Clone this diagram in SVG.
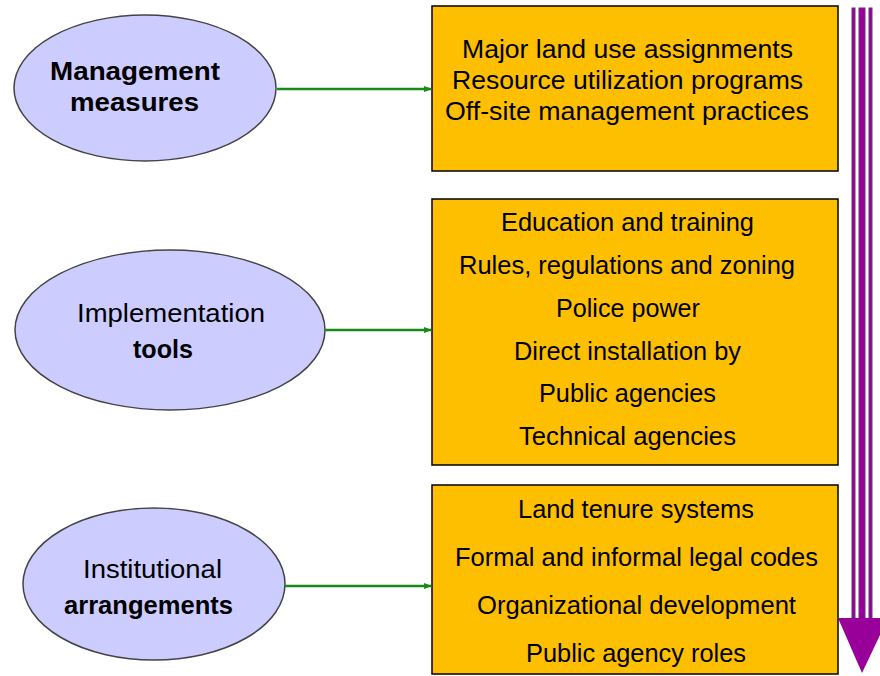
<svg xmlns="http://www.w3.org/2000/svg" width="880" height="676" viewBox="0 0 880 676">
<defs>
<marker id="ah" markerWidth="8" markerHeight="8" refX="7" refY="4" orient="auto" markerUnits="userSpaceOnUse">
<path d="M0,1 L8,4 L0,7 Z" fill="#1a8a1a"/>
</marker>
<style>
.ell{fill:#ccccff;stroke:#444;stroke-width:1.5}
.box{fill:#fdbf00;stroke:#000;stroke-width:1.5}
.t{font-family:"Liberation Sans",Arial,sans-serif;font-size:25px;fill:#000;text-anchor:middle}
.b{font-weight:bold}
.con{stroke:#1a8a1a;stroke-width:2.5;fill:none;marker-end:url(#ah)}
.pl{fill:#990099;stroke:#6f2f80;stroke-width:1}
</style>
</defs>
<rect width="880" height="676" fill="#fff"/>
<g id="n1">
<ellipse class="ell" cx="145" cy="88" rx="131" ry="73"/>
<text class="t b" x="135" y="80" textLength="170" lengthAdjust="spacingAndGlyphs">Management</text>
<text class="t b" x="134.5" y="111" textLength="129" lengthAdjust="spacingAndGlyphs">measures</text>
</g>
<g id="n2">
<ellipse class="ell" cx="170" cy="330" rx="155" ry="80"/>
<text class="t" x="171" y="322" textLength="188" lengthAdjust="spacingAndGlyphs">Implementation</text>
<text class="t b" x="163" y="358" textLength="60" lengthAdjust="spacingAndGlyphs">tools</text>
</g>
<g id="n3">
<ellipse class="ell" cx="154" cy="584" rx="131" ry="76"/>
<text class="t" x="152.5" y="578" textLength="139" lengthAdjust="spacingAndGlyphs">Institutional</text>
<text class="t b" x="148.5" y="614" textLength="169" lengthAdjust="spacingAndGlyphs">arrangements</text>
</g>
<g id="b1">
<rect class="box" x="432" y="6" width="406" height="165"/>
<text class="t" x="627.5" y="58" textLength="331" lengthAdjust="spacingAndGlyphs">Major land use assignments</text>
<text class="t" x="627.5" y="89" textLength="351" lengthAdjust="spacingAndGlyphs">Resource utilization programs</text>
<text class="t" x="627" y="120" textLength="364" lengthAdjust="spacingAndGlyphs">Off-site management practices</text>
</g>
<g id="b2">
<rect class="box" x="432" y="199" width="406" height="266"/>
<text class="t" x="627.5" y="231" textLength="253" lengthAdjust="spacingAndGlyphs">Education and training</text>
<text class="t" x="627" y="274" textLength="336" lengthAdjust="spacingAndGlyphs">Rules, regulations and zoning</text>
<text class="t" x="628" y="317" textLength="144" lengthAdjust="spacingAndGlyphs">Police power</text>
<text class="t" x="627.5" y="360" textLength="227" lengthAdjust="spacingAndGlyphs">Direct installation by</text>
<text class="t" x="627.5" y="402" textLength="177" lengthAdjust="spacingAndGlyphs">Public agencies</text>
<text class="t" x="627.5" y="445" textLength="217" lengthAdjust="spacingAndGlyphs">Technical agencies</text>
</g>
<g id="b3">
<rect class="box" x="432" y="485" width="406" height="189"/>
<text class="t" x="636" y="518" textLength="236" lengthAdjust="spacingAndGlyphs">Land tenure systems</text>
<text class="t" x="636.5" y="566" textLength="363" lengthAdjust="spacingAndGlyphs">Formal and informal legal codes</text>
<text class="t" x="636.5" y="614" textLength="319" lengthAdjust="spacingAndGlyphs">Organizational development</text>
<text class="t" x="636" y="662" textLength="220" lengthAdjust="spacingAndGlyphs">Public agency roles</text>
</g>
<g id="connectors">
<line class="con" x1="277" y1="89" x2="431" y2="89"/>
<line class="con" x1="325" y1="330" x2="431" y2="330"/>
<line class="con" x1="285" y1="586" x2="431" y2="586"/>
</g>
<g id="flow">
<rect class="pl" x="852" y="8" width="3" height="612"/>
<rect class="pl" x="859" y="8" width="6" height="612"/>
<rect class="pl" x="869" y="8" width="3" height="612"/>
<path d="M838,618 L888,618 L862,673 Z" fill="#990099"/>
</g>
</svg>
